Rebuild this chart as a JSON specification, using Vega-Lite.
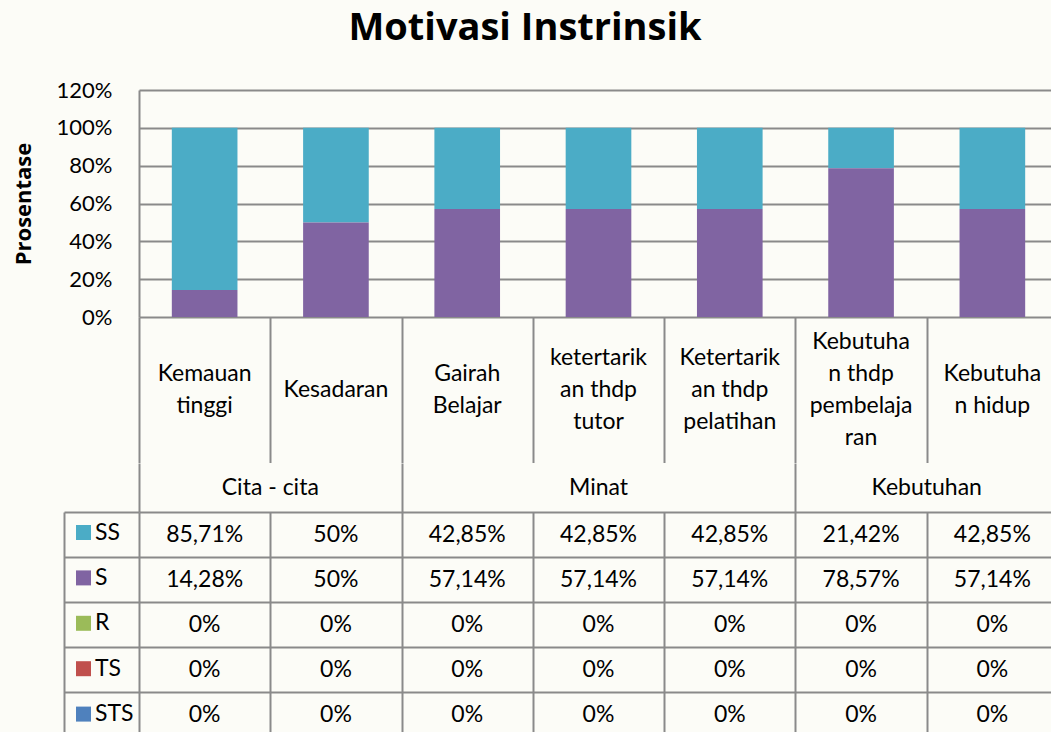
{
  "$schema": "https://vega.github.io/schema/vega-lite/v6.json",
  "background": "#fcfcf7",
  "padding": {"left": 12, "top": 10, "right": 0, "bottom": 0},
  "title": {"text": "Motivasi Instrinsik", "font": "Open Sans", "fontSize": 38, "fontWeight": "bold", "color": "#000000", "anchor": "middle", "offset": 31, "dx": -10},
  "datasets": {
    "kat": [
      {"i": 1, "kategori": "Kemauan tinggi", "label": "Kemauan\ntinggi", "kelompok": "Cita - cita"},
      {"i": 2, "kategori": "Kesadaran", "label": "Kesadaran", "kelompok": "Cita - cita"},
      {"i": 3, "kategori": "Gairah Belajar", "label": "Gairah\nBelajar", "kelompok": "Minat"},
      {"i": 4, "kategori": "ketertarikan thdp tutor", "label": "ketertarik\nan thdp\ntutor", "kelompok": "Minat"},
      {"i": 5, "kategori": "Ketertarikan thdp pelatihan", "label": "Ketertarik\nan thdp\npelatihan", "kelompok": "Minat"},
      {"i": 6, "kategori": "Kebutuhan thdp pembelajaran", "label": "Kebutuha\nn thdp\npembelaja\nran", "kelompok": "Kebutuhan"},
      {"i": 7, "kategori": "Kebutuhan hidup", "label": "Kebutuha\nn hidup", "kelompok": "Kebutuhan"}
    ],
    "nilai": [
      {"i": 1, "seri": "SS", "nilai": 0.8571}, {"i": 1, "seri": "S", "nilai": 0.1428}, {"i": 1, "seri": "R", "nilai": 0}, {"i": 1, "seri": "TS", "nilai": 0}, {"i": 1, "seri": "STS", "nilai": 0},
      {"i": 2, "seri": "SS", "nilai": 0.5}, {"i": 2, "seri": "S", "nilai": 0.5}, {"i": 2, "seri": "R", "nilai": 0}, {"i": 2, "seri": "TS", "nilai": 0}, {"i": 2, "seri": "STS", "nilai": 0},
      {"i": 3, "seri": "SS", "nilai": 0.4285}, {"i": 3, "seri": "S", "nilai": 0.5714}, {"i": 3, "seri": "R", "nilai": 0}, {"i": 3, "seri": "TS", "nilai": 0}, {"i": 3, "seri": "STS", "nilai": 0},
      {"i": 4, "seri": "SS", "nilai": 0.4285}, {"i": 4, "seri": "S", "nilai": 0.5714}, {"i": 4, "seri": "R", "nilai": 0}, {"i": 4, "seri": "TS", "nilai": 0}, {"i": 4, "seri": "STS", "nilai": 0},
      {"i": 5, "seri": "SS", "nilai": 0.4285}, {"i": 5, "seri": "S", "nilai": 0.5714}, {"i": 5, "seri": "R", "nilai": 0}, {"i": 5, "seri": "TS", "nilai": 0}, {"i": 5, "seri": "STS", "nilai": 0},
      {"i": 6, "seri": "SS", "nilai": 0.2142}, {"i": 6, "seri": "S", "nilai": 0.7857}, {"i": 6, "seri": "R", "nilai": 0}, {"i": 6, "seri": "TS", "nilai": 0}, {"i": 6, "seri": "STS", "nilai": 0},
      {"i": 7, "seri": "SS", "nilai": 0.4285}, {"i": 7, "seri": "S", "nilai": 0.5714}, {"i": 7, "seri": "R", "nilai": 0}, {"i": 7, "seri": "TS", "nilai": 0}, {"i": 7, "seri": "STS", "nilai": 0}
    ]
  },
  "spacing": 0,
  "bounds": "flush",
  "resolve": {"scale": {"color": "independent"}, "legend": {"color": "independent"}},
  "config": {
    "locale": {"number": {"decimal": ",", "thousands": ".", "grouping": [3], "currency": ["Rp", ""]}},
    "view": {"stroke": null},
    "font": "Lato",
    "text": {"font": "Lato", "fontSize": 23, "color": "#000000"},
    "axis": {"gridColor": "#8a8a8a", "gridWidth": 2, "gridOpacity": 1, "domainColor": "#8a8a8a", "domainWidth": 2, "tickColor": "#8a8a8a", "tickWidth": 2, "tickOpacity": 1}
  },
  "vconcat": [
    {
      "width": 919,
      "height": 227,
      "data": {"name": "nilai"},
      "mark": {"type": "bar"},
      "encoding": {
        "x": {"field": "i", "type": "ordinal", "scale": {"paddingInner": 0.5, "paddingOuter": 0.25}, "axis": null},
        "y": {
          "field": "nilai", "type": "quantitative", "stack": "normalize",
          "scale": {"domain": [0, 1.2], "nice": false},
          "axis": {"values": [0, 0.2, 0.4, 0.6, 0.8, 1, 1.2], "format": ".0%", "title": "Prosentase",
            "titleFont": "Open Sans", "titleFontSize": 22, "titleFontWeight": "bold", "titleColor": "#000000", "titlePadding": 21,
            "labelFont": "Lato", "labelFontSize": 22, "labelColor": "#000000", "labelPadding": 27,
            "ticks": false, "grid": true, "domain": true}
        },
        "color": {
          "field": "seri", "type": "nominal",
          "scale": {"domain": ["SS", "S", "R", "TS", "STS"], "range": ["#4bacc6", "#8064a2", "#9bbb59", "#c0504d", "#4f81bd"]},
          "legend": {"orient": "none", "legendX": -67, "legendY": 431, "title": null, "symbolType": "square", "symbolSize": 225, "symbolStrokeWidth": 0,
            "labelFont": "Lato", "labelFontSize": 23, "labelColor": "#000000", "labelOffset": 0, "rowPadding": 21.4, "padding": 0, "direction": "vertical"}
        },
        "order": {"field": "seri", "sort": "ascending"}
      }
    },
    {
      "width": 919,
      "height": 145.5,
      "data": {"name": "kat"},
      "encoding": {
        "x": {"field": "i", "type": "quantitative", "scale": {"domain": [0.5, 7.5], "nice": false, "zero": false},
          "axis": {"values": [0.5, 1.5, 2.5, 3.5, 4.5, 5.5, 6.5, 7.5], "grid": true, "labels": false, "ticks": false, "domain": false, "title": null}},
        "text": {"field": "label"}
      },
      "layer": [
        {"transform": [{"filter": "length(split(datum.label, '\\n')) == 1"}],
         "mark": {"type": "text", "lineBreak": "\n", "lineHeight": 32, "baseline": "middle", "align": "center", "dy": 0}},
        {"transform": [{"filter": "length(split(datum.label, '\\n')) == 2"}],
         "mark": {"type": "text", "lineBreak": "\n", "lineHeight": 32, "baseline": "middle", "align": "center", "dy": -16}},
        {"transform": [{"filter": "length(split(datum.label, '\\n')) == 3"}],
         "mark": {"type": "text", "lineBreak": "\n", "lineHeight": 32, "baseline": "middle", "align": "center", "dy": -32}},
        {"transform": [{"filter": "length(split(datum.label, '\\n')) == 4"}],
         "mark": {"type": "text", "lineBreak": "\n", "lineHeight": 32, "baseline": "middle", "align": "center", "dy": -48}}
      ]
    },
    {
      "width": 919,
      "height": 49,
      "data": {"name": "kat"},
      "mark": {"type": "text", "baseline": "middle", "align": "center"},
      "encoding": {
        "x": {"aggregate": "mean", "field": "i", "type": "quantitative", "scale": {"domain": [0.5, 7.5], "nice": false, "zero": false},
          "axis": {"values": [0.5, 2.5, 5.5, 7.5], "grid": true, "labels": false, "ticks": false, "domain": false, "title": null}},
        "text": {"field": "kelompok"}
      }
    },
    {
      "width": 919,
      "height": 225,
      "data": {"name": "nilai"},
      "mark": {"type": "text", "baseline": "middle", "align": "center"},
      "encoding": {
        "x": {"field": "i", "type": "quantitative", "scale": {"domain": [0.5, 7.5], "nice": false, "zero": false},
          "axis": {"values": [0.5, 1.5, 2.5, 3.5, 4.5, 5.5, 6.5, 7.5], "grid": true, "labels": false, "ticks": false, "domain": false, "title": null}},
        "y": {"field": "seri", "type": "nominal", "scale": {"type": "band", "domain": ["SS", "S", "R", "TS", "STS"], "paddingInner": 0, "paddingOuter": 0},
          "axis": {"orient": "left", "offset": 75, "bandPosition": 0, "grid": true, "ticks": true, "tickSize": -75, "labels": false, "domain": true, "title": null}},
        "text": {"field": "nilai", "format": ".2~%"}
      }
    }
  ]
}
